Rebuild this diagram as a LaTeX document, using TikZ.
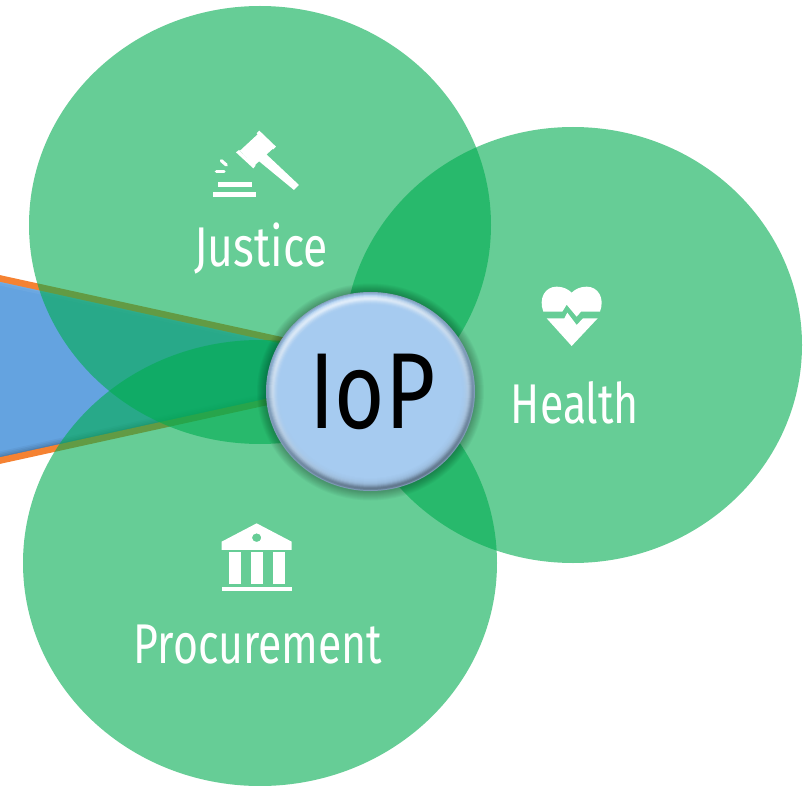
\documentclass[tikz,border=0pt]{standalone}
\usepackage{fontspec}
\setmainfont{Fira Sans}
\newfontfamily\ioplabel{Fira Sans}
\usepackage{graphicx}
\definecolor{petal}{RGB}{0,173,80}
\definecolor{wedgeblue}{RGB}{100,163,224}
\definecolor{wedgeline}{RGB}{245,130,50}
\definecolor{discblue}{RGB}{166,203,240}
\tikzset{
  petal/.style={fill=petal,fill opacity=0.6,draw=none},
  glyph/.style={fill=white,draw=none},
  caption/.style={text=white,anchor=base,inner sep=0pt,font=\fontsize{56}{56}\selectfont},
  orangeedge/.style={draw=wedgeline,line width=6.5pt},
}
\begin{document}
\begin{tikzpicture}[x=1pt,y=-1pt]
\useasboundingbox (0,0) rectangle (811,786);
\fill[white] (0,0) rectangle (811,786);
% wedge
\begin{scope}
\clip (0,0) rectangle (811,786);
\fill[wedgeblue] (-2,278) -- (285,341) -- (285,398) -- (-2,461) -- cycle;
\begin{scope}
\clip (-2,278) -- (285,341) -- (285,398) -- (-2,461) -- cycle;
\foreach \d/\o in {3/.10,6/.08,9/.08,12/.06,15/.05,18/.04}{
  \draw[black,opacity=\o,line width=\d pt] (-2,461) -- (285,398);
}
\foreach \d/\o in {4/.07,9/.06,14/.05}{
  \draw[white,opacity=\o,line width=\d pt] (-2,278) -- (285,341);
}
\end{scope}
\draw[orangeedge] (-2,278) -- (285,341);
\draw[orangeedge] (-2,461) -- (285,398);
\end{scope}
% petals
\fill[petal] (260,225) ellipse [x radius=231, y radius=219];
\fill[petal] (573,345) ellipse [x radius=229, y radius=218];
\fill[petal] (260,563) ellipse [x radius=237, y radius=223];
% disc shadow
\foreach \d in {9,8,7,6,5,4,3,2,1}{
  \fill[black,opacity=.03] (370.5,392) ellipse [x radius=104.5+\d, y radius=99.5+\d];
}
% disc bevel
\foreach \d/\tc/\bc in {
  0/black!20!discblue/black!25!discblue,
  1/black!12!discblue/black!38!discblue,
  2/black!5!discblue/black!42!discblue,
  3/white!20!discblue/black!38!discblue,
  4/white!40!discblue/black!30!discblue,
  5/white!55!discblue/black!22!discblue,
  6/white!65!discblue/black!15!discblue,
  7/white!60!discblue/black!10!discblue,
  8/white!45!discblue/black!7!discblue,
  9/white!30!discblue/black!5!discblue,
  10/white!18!discblue/black!3!discblue,
  11/white!8!discblue/black!2!discblue,
  12/white!3!discblue/black!1!discblue}{
  \shade[top color=\tc,bottom color=\bc,shading angle=18]
    (370.5,391.5) ellipse [x radius=104.5-\d, y radius=99.5-\d];
}
\fill[discblue] (370.5,391.5) ellipse [x radius=91.5, y radius=86.5];
\node[inner sep=0pt,anchor=base,font=\ioplabel\fontsize{108}{108}\selectfont] (iop) at (372.5,428) {\scalebox{.8}[1]{IoP}};
% captions
\node[caption] (justice) at (261,267) {\scalebox{.794}[1]{Justice}};
\node[caption] (health) at (575,423) {\scalebox{.765}[1]{Health}};
\node[caption] (procurement) at (258,663) {\scalebox{.765}[1]{Procurement}};
% gavel
\begin{scope}[shift={(190,120)},x=.3333pt,y=-.3333pt]
\fill[glyph] (138,97) -- (147,90) -- (197,137) -- (190,145) -- cycle;
\fill[glyph] (200,40) -- (208,32) -- (258,80) -- (250,88) -- cycle;
\fill[glyph] (150,92) -- (204,42) -- (250,85) -- (194,136) -- cycle;
\fill[glyph] (205,122) -- (226,100) -- (327,195) -- (312,210) -- cycle;
\fill[glyph] (85,187) rectangle (185,202);
\fill[glyph] (70,216) rectangle (198,231);
\draw[white,line width=3.2pt,line cap=round] (79,154) -- (102,154);
\draw[white,line width=3.2pt,line cap=round] (94,122) -- (109,135);
\end{scope}
% heart
\begin{scope}[shift={(500,270)},x=.3333pt,y=-.3333pt]
\fill[glyph] (130,125) .. controls (115,85) and (135,50) .. (170,50) .. controls (190,50) and (205,58) .. (215,68) .. controls (225,58) and (240,50) .. (260,50) .. controls (295,50) and (315,85) .. (300,125) -- (243,125) -- (230,140) -- (200,104) -- (187,125) -- cycle;
\fill[glyph] (140,145) -- (193,145) -- (202,128) -- (230,165) -- (249,145) -- (293,145) -- (215,228) -- cycle;
\end{scope}
% bank
\begin{scope}[shift={(120,510)},x=.3333pt,y=-.3333pt]
\fill[glyph,even odd rule] (305,95) -- (410,40) -- (515,95) -- (515,120) -- (305,120) -- cycle (410,83) ellipse [x radius=14,y radius=13];
\fill[glyph] (327,127) rectangle (364,222);
\fill[glyph] (392,127) rectangle (428,222);
\fill[glyph] (458,127) rectangle (494,222);
\fill[glyph] (305,231) rectangle (515,243);
\end{scope}
\end{tikzpicture}
\end{document}
